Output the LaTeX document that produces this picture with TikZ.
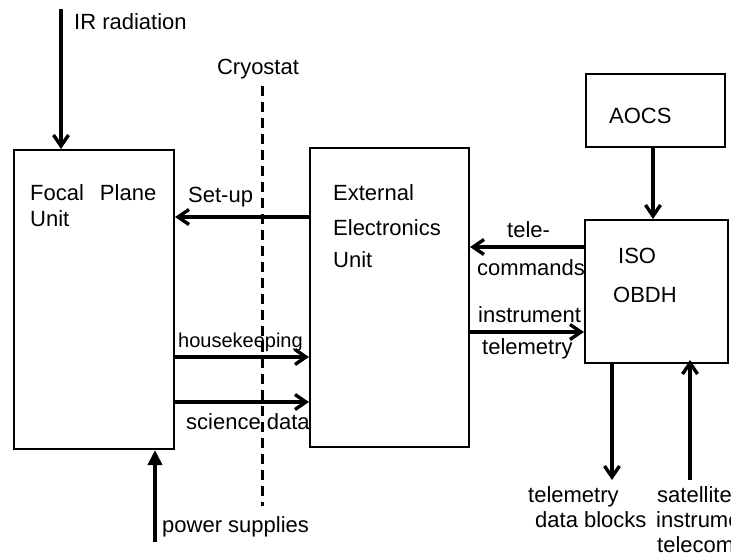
\documentclass[tikz,border=0pt]{standalone}
\usepackage{fontspec}
\setmainfont{Liberation Sans}
\usetikzlibrary{arrows.meta}
\begin{document}
\begin{tikzpicture}[x=1pt,y=-1pt,
  blk/.style={draw, line width=2pt, inner sep=0pt},
  lbl/.style={anchor=base west, inner sep=0pt, font=\fontsize{22}{26}\selectfont},
  flow/.style={line width=4pt, -{Straight Barb[length=11pt,width=15pt,line width=3.4pt]}},
  pflow/.style={line width=4pt, -{Triangle[length=15pt,width=14pt]}}]
\useasboundingbox (0,0) rectangle (731,557);
\clip (0,0) rectangle (731,557);
% boxes
\node[blk, minimum width=160pt, minimum height=299pt] (fpu) at (94,299.5) {};
\node[blk, minimum width=159pt, minimum height=299pt] (eeu) at (389.5,297.5) {};
\node[blk, minimum width=139pt, minimum height=73pt] (aocs) at (655.5,110.5) {};
\node[blk, minimum width=143pt, minimum height=143pt] (obdh) at (656.5,291.5) {};
% texts
\node[lbl] (tfpu1) at (30,200) {Focal\hspace{0.45em} Plane};
\node[lbl] (tfpu2) at (30,226) {Unit};
\node[lbl] (teeu1) at (333,200) {External};
\node[lbl] (teeu2) at (333,235) {Electronics};
\node[lbl] (teeu3) at (333,267) {Unit};
\node[lbl] (taocs) at (609,123) {AOCS};
\node[lbl] (tiso) at (618,263) {ISO};
\node[lbl] (tobdh) at (613,302) {OBDH};
% coordinates
\coordinate (irs) at (61,9);
\coordinate (pws) at (155,542);
\coordinate (tmd) at (612,480);
\coordinate (sts) at (690,480);
\coordinate (cr1) at (262,86);
\coordinate (cr2) at (262,506);
% cryostat
\draw[line width=3pt, dash pattern=on 10pt off 6pt] (cr1) -- (cr2);
\node[anchor=base, inner sep=0pt, font=\fontsize{22}{26}\selectfont] (tcry) at (258,74) {Cryostat};
% arrows
\draw[flow] (irs) -- (fpu.north west -| irs);
\node[lbl] (tir) at (74,29) {IR radiation};
\draw[flow] (eeu.west |- 0,217) -- (fpu.east |- 0,217);
\node[lbl] (tset) at (188,202) {Set-up};
\draw[flow] (fpu.east |- 0,357) -- (eeu.west |- 0,357);
\node[lbl, font=\fontsize{20}{24}\selectfont] (thk) at (178,347) {housekeeping};
\draw[flow] (fpu.east |- 0,402) -- (eeu.west |- 0,402);
\node[lbl] (tsci) at (186,429) {science data};
\draw[pflow] (pws) -- (fpu.south west -| pws);
\node[lbl] (tpw) at (162,532) {power supplies};
\draw[flow] (aocs.south -| 653,0) -- (obdh.north -| 653,0);
\draw[flow] (obdh.west |- 0,247) -- (eeu.east |- 0,247);
\node[lbl] (ttc1) at (507,237) {tele-};
\node[lbl] (ttc2) at (477,275) {commands};
\draw[flow] (eeu.east |- 0,332) -- (obdh.west |- 0,332);
\node[lbl] (tit1) at (478,322) {instrument};
\node[lbl] (tit2) at (482,354) {telemetry};
\draw[flow] (obdh.south -| tmd) -- (tmd);
\node[lbl] (ttm1) at (528,502) {telemetry};
\node[lbl] (ttm2) at (535,527) {data blocks};
\draw[flow] (sts) -- ([yshift=4pt]obdh.south -| sts);
\node[lbl] (tst1) at (657,502) {satellite};
\node[lbl] (tst2) at (656,527) {instrument};
\node[lbl] (tst3) at (657,552) {telecommands};
\end{tikzpicture}
\end{document}
